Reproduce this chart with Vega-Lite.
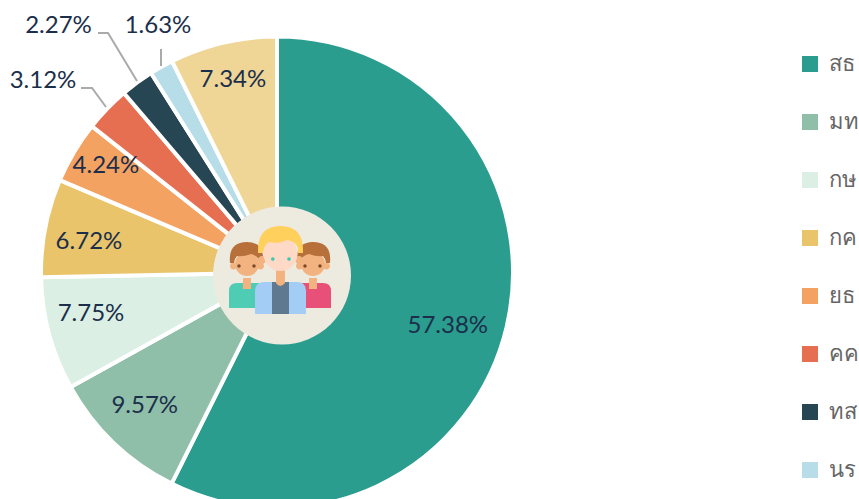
{"$schema":"https://vega.github.io/schema/vega-lite/v6.json","width":554,"height":499,"autosize":"none","padding":{"left":0,"right":305,"top":23,"bottom":-23},"background":"white","view":{"stroke":null},
"datasets":{"slices":[{"name":"สธ","pct":57.38,"ord":1,"label":"57.38%"},{"name":"มท","pct":9.57,"ord":2,"label":"9.57%"},{"name":"กษ","pct":7.75,"ord":3,"label":"7.75%"},{"name":"กค","pct":6.72,"ord":4,"label":"6.72%"},{"name":"ยธ","pct":4.24,"ord":5,"label":"4.24%"},{"name":"คค","pct":3.12,"ord":6,"label":"3.12%"},{"name":"ทส","pct":2.27,"ord":7,"label":"2.27%"},{"name":"นร","pct":1.63,"ord":8,"label":"1.63%"},{"name":"อื่นๆ","pct":7.34,"ord":9,"label":"7.34%"}],
"leaders":[{"g":"คค","i":1,"lx":-196,"ly":-184.5},{"g":"คค","i":2,"lx":-185,"ly":-184.5},{"g":"คค","i":3,"lx":-171,"ly":-165.5},{"g":"ทส","i":1,"lx":-179,"ly":-239.5},{"g":"ทส","i":2,"lx":-169,"ly":-239.5},{"g":"ทส","i":3,"lx":-140,"ly":-191.5},{"g":"นร","i":1,"lx":-116,"ly":-223.5},{"g":"นร","i":2,"lx":-116,"ly":-206.5}],
"outer":[{"label":"3.12%","lx":-234,"ly":-191.5},{"label":"2.27%","lx":-218.5,"ly":-246.5},{"label":"1.63%","lx":-119,"ly":-246.5}],
"origin":[{"lx":0,"ly":2.5}],"disk":[{"lx":5,"ly":3}]},
"layer":[
{"data":{"name":"slices"},"mark":{"type":"arc","outerRadius":236,"innerRadius":0,"stroke":"white","strokeWidth":4},"encoding":{"theta":{"field":"pct","type":"quantitative","stack":true},"order":{"field":"ord","type":"quantitative"},"color":{"field":"name","type":"nominal","sort":null,"scale":{"domain":["สธ","มท","กษ","กค","ยธ","คค","ทส","นร","อื่นๆ"],"range":["#2a9d8f","#8fbfa8","#dcefe4","#e9c46a","#f4a261","#e76f51","#264653","#b7dde9","#f0d696"]},"legend":{"orient":"none","legendX":799,"legendY":28.5,"title":null,"values":["สธ","มท","กษ","กค","ยธ","คค","ทส","นร"],"symbolType":"square","symbolSize":256,"symbolStrokeWidth":0,"labelFont":"Lato","labelFontSize":22,"labelColor":"#666666","labelOffset":8,"rowPadding":33,"labelLimit":100,"clipHeight":25}}}},
{"data":{"name":"leaders"},"mark":{"type":"line","color":"#aaaaaa","strokeWidth":2},"encoding":{"x":{"field":"lx","type":"quantitative","scale":{"domain":[-277,277],"nice":false},"axis":null},"y":{"field":"ly","type":"quantitative","scale":{"domain":[-249.5,249.5],"reverse":true,"nice":false},"axis":null},"detail":{"field":"g"},"order":{"field":"i","type":"quantitative"}}},
{"data":{"name":"slices"},"transform":[{"filter":"indexof(['57.38%','9.57%','7.75%','6.72%','4.24%','7.34%'],datum.label)>=0"}],"mark":{"type":"text","font":"Lato","fontSize":24,"fill":"#1b2f4b"},"encoding":{"theta":{"field":"ord","type":"quantitative","aggregate":null,"bin":null,"stack":false,"scale":{"type":"ordinal","domain":[1,2,3,4,5,9],"range":[1.875,3.922,4.493,4.873,5.269,6.058]}},"radius":{"field":"ord","type":"quantitative","scale":{"type":"ordinal","domain":[1,2,3,4,5,9],"range":[179,188,190.6,190.5,201.5,197.5]}},"text":{"field":"label"}}},
{"data":{"name":"outer"},"mark":{"type":"text","font":"Lato","fontSize":24,"fill":"#1b2f4b"},"encoding":{"x":{"field":"lx","type":"quantitative"},"y":{"field":"ly","type":"quantitative"},"text":{"field":"label"}}},
{"data":{"name":"disk"},"mark":{"type":"point","filled":true,"fill":"#edeae0","opacity":1,"size":19044,"stroke":null},"encoding":{"x":{"field":"lx","type":"quantitative"},"y":{"field":"ly","type":"quantitative"}}},
{"data":{"name":"origin"},"layer":[
{"mark":{"type":"point","filled":true,"opacity":1,"size":4,"stroke":null,"fill":"#4ecdb4","shape":"M-48 33V16Q-48 8 -40 8H-18V33Z"}},
{"mark":{"type":"point","filled":true,"opacity":1,"size":4,"stroke":null,"fill":"#e8507a","shape":"M54 33V16Q54 8 46 8H24V33Z"}},
{"mark":{"type":"point","filled":true,"opacity":1,"size":4,"stroke":null,"fill":"#f2b380","shape":"M-42 -11a12 12 0 1 0 24 0a12 12 0 1 0 -24 0ZM24 -11a12 12 0 1 0 24 0a12 12 0 1 0 -24 0ZM-47 -9a3.5 3.5 0 1 0 7 0a3.5 3.5 0 1 0 -7 0ZM-20 -9a3.5 3.5 0 1 0 7 0a3.5 3.5 0 1 0 -7 0ZM19 -9a3.5 3.5 0 1 0 7 0a3.5 3.5 0 1 0 -7 0ZM46 -9a3.5 3.5 0 1 0 7 0a3.5 3.5 0 1 0 -7 0ZM-34 3H-26V14H-34ZM32 3H40V14H32Z"}},
{"mark":{"type":"point","filled":true,"opacity":1,"size":4,"stroke":null,"fill":"#b8703a","shape":"M-47 -12Q-49 -33 -30 -33Q-12 -33 -14 -12L-17 -12Q-18 -19 -26 -21Q-34 -18 -40 -19Q-43 -16 -43 -12ZM53 -12Q55 -33 36 -33Q18 -33 20 -12L23 -12Q24 -19 32 -21Q40 -18 46 -19Q49 -16 49 -12Z"}},
{"mark":{"type":"point","filled":true,"opacity":1,"size":4,"stroke":null,"fill":"#7a4a2a","shape":"M-39.7 -9a1.7 1.7 0 1 0 3.4 0a1.7 1.7 0 1 0 -3.4 0ZM-24.7 -9a1.7 1.7 0 1 0 3.4 0a1.7 1.7 0 1 0 -3.4 0ZM26.3 -9a1.7 1.7 0 1 0 3.4 0a1.7 1.7 0 1 0 -3.4 0ZM41.3 -9a1.7 1.7 0 1 0 3.4 0a1.7 1.7 0 1 0 -3.4 0Z"}},
{"mark":{"type":"point","filled":true,"opacity":1,"size":4,"stroke":null,"fill":"#a3cdf5","shape":"M-22 39V16Q-22 7 -12 7H20Q29 7 29 16V39Z"}},
{"mark":{"type":"point","filled":true,"opacity":1,"size":4,"stroke":null,"fill":"#5f7a90","shape":"M-5 7H12V39H-5Z"}},
{"mark":{"type":"point","filled":true,"opacity":1,"size":4,"stroke":null,"fill":"#f2b380","shape":"M-1 -8H8V8Q3 14 -1 8ZM-19 -15a4 4 0 1 0 8 0a4 4 0 1 0 -8 0ZM18 -15a4 4 0 1 0 8 0a4 4 0 1 0 -8 0Z"}},
{"mark":{"type":"point","filled":true,"opacity":1,"size":4,"stroke":null,"fill":"#fdd9c6","shape":"M-13.5 -21a17 17 0 1 0 34 0a17 17 0 1 0 -34 0Z"}},
{"mark":{"type":"point","filled":true,"opacity":1,"size":4,"stroke":null,"fill":"#ffd05b","shape":"M-19 -22Q-20 -49 3.5 -49Q27 -49 26 -22L21 -22L21 -27Q18 -34 10 -35Q3 -31 -8 -33Q-13 -30 -14 -22Z"}},
{"mark":{"type":"point","filled":true,"opacity":1,"size":4,"stroke":null,"fill":"#3cc9b0","shape":"M-6 -16a1.8 1.8 0 1 0 3.6 0a1.8 1.8 0 1 0 -3.6 0ZM10.2 -16a1.8 1.8 0 1 0 3.6 0a1.8 1.8 0 1 0 -3.6 0Z"}}
],"encoding":{"x":{"field":"lx","type":"quantitative"},"y":{"field":"ly","type":"quantitative"}}}
],"resolve":{"scale":{"theta":"independent","radius":"independent"}},"config":{"axis":{"grid":false}}}
